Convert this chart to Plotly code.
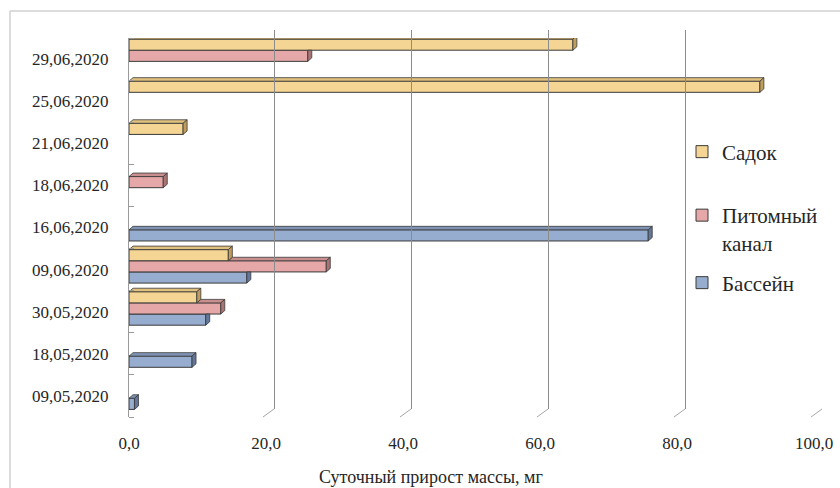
import plotly.graph_objects as go

# ---- data -------------------------------------------------------------
dates = ["09,05,2020", "18,05,2020", "30,05,2020", "09,06,2020", "16,06,2020",
         "18,06,2020", "21,06,2020", "25,06,2020", "29,06,2020"]
bassein = [0.8, 9.2, 11.2, 17.2, 75.8, None, None, None, None]
pitomny = [None, None, 13.4, 28.8, None, 5.0, None, None, 26.1]
sadok = [None, None, 9.9, 14.5, None, None, 7.9, 92.1, 64.8]

series_names = ["Бассейн", "Питомный<br>канал", "Садок"]
x_ticks = [0, 20, 40, 60, 80, 100]
x_tick_text = ["0,0", "20,0", "40,0", "60,0", "80,0", "100,0"]
axis_title = "Суточный прирост массы, мг"

# ---- styling ----------------------------------------------------------
W, H = 840, 488
FONT = "'Liberation Serif', 'Times New Roman', 'DejaVu Serif', serif"
TEXT = "#262626"
front_col = ["#97ADCF", "#E5A7A7", "#F4D593"]
top_col = ["#7E93B5", "#C98E8E", "#E0C07E"]
side_col = ["#63779A", "#A97474", "#BF9D5C"]
edge = "#3A3A3A"
grid_col = "#8C8C8C"

# plot area (front plane) in pixels
PX0, PX1 = 129, 814
PY0, PY1 = 38, 417
BACK_SHIFT = 8
px_per_unit = (PX1 - PX0) / 100.0
px_per_cat = (PY1 - PY0) / len(dates)

BAR_W = 0.265
OFFS = [-0.32, -0.055, 0.21]
DX = 4 / px_per_unit          # bar depth, x direction (data units)
DY = 3.5 / px_per_cat         # bar depth, y direction (category units)

def px_x(p):
    return p / W

def px_y(p):
    return 1 - p / H

series = [bassein, pitomny, sadok]
n = len(dates)
fig = go.Figure()

# front faces of the bars
for k, vals in enumerate(series):
    fig.add_trace(go.Bar(
        y=list(range(n)), x=vals, orientation="h",
        name=series_names[k], width=BAR_W, offset=OFFS[k],
        marker=dict(color=front_col[k], line=dict(color=edge, width=1)),
        legend=["legend3", "legend2", "legend"][k],
        hovertemplate="%{x:.1f}<extra></extra>",
    ))

# top and end faces giving the bars depth
for k, vals in enumerate(series):
    upper = series[k + 1] if k + 1 < len(series) else [None] * n
    tx, ty, sx, sy = [], [], [], []
    for i, v in enumerate(vals):
        if v is None:
            continue
        u = upper[i] or 0.0
        yb = i + OFFS[k]
        yt = yb + BAR_W
        if u < v:
            tx += [u, v, v + DX, u + DX, u, None]
            ty += [yt, yt, yt + DY, yt + DY, yt, None]
            sx += [v, v, v + DX, v + DX, v, None]
            sy += [yb, yt, yt + DY, yb + DY, yb, None]
        else:
            sx += [v, v, v + DX, v + DX, v, None]
            sy += [yb, yt, yt, yb + DY, yb, None]
    if tx:
        fig.add_trace(go.Scatter(x=tx, y=ty, mode="lines", fill="toself",
                                 fillcolor=top_col[k], line=dict(color=edge, width=0.8),
                                 showlegend=False, hoverinfo="skip"))
    fig.add_trace(go.Scatter(x=sx, y=sy, mode="lines", fill="toself",
                             fillcolor=side_col[k], line=dict(color=edge, width=0.8),
                             showlegend=False, hoverinfo="skip"))

# back wall carrying the vertical gridlines
fig.add_trace(go.Scatter(x=[None], y=[None], xaxis="x2", yaxis="y2",
                         showlegend=False, hoverinfo="skip"))

# floor lines joining the back gridlines to the front edge
shapes = []
for v in x_ticks:
    shapes.append(dict(type="line", xref="x2", yref="paper",
                       x0=v, y0=px_y(PY1 - BACK_SHIFT),
                       x1=v - 11 / px_per_unit, y1=px_y(PY1),
                       line=dict(color="#A6A6A6", width=1)))
# chart frame (top and left edges)
shapes.append(dict(type="line", xref="paper", yref="paper",
                   x0=px_x(10), y0=px_y(11), x1=1, y1=px_y(11),
                   line=dict(color="#D0D0D0", width=1.5)))
shapes.append(dict(type="line", xref="paper", yref="paper",
                   x0=px_x(10), y0=px_y(11), x1=px_x(10), y1=0,
                   line=dict(color="#D0D0D0", width=1.5)))

legend_common = dict(xanchor="left", x=px_x(682), yanchor="middle",
                     bgcolor="rgba(0,0,0,0)",
                     font=dict(family=FONT, size=21, color=TEXT))

fig.update_layout(
    width=W, height=H,
    margin=dict(l=0, r=0, t=0, b=0, autoexpand=False),
    paper_bgcolor="white", plot_bgcolor="rgba(0,0,0,0)",
    barmode="overlay",
    font=dict(family=FONT, size=17, color=TEXT),
    showlegend=True,
    xaxis=dict(domain=[px_x(PX0), px_x(PX1)], range=[0, 100],
               tickvals=x_ticks, ticktext=x_tick_text, ticks="",
               showgrid=False, zeroline=False, showline=False,
               ticklabelstandoff=14, fixedrange=True, automargin=False),
    yaxis=dict(domain=[px_y(PY1), px_y(PY0)], range=[-0.5, n - 0.5],
               tickvals=list(range(n)), ticktext=dates, ticks="",
               showgrid=False, zeroline=False,
               showline=True, linecolor="#9A9A9A", linewidth=1,
               minor=dict(ticks="inside", tick0=-0.5, dtick=1, ticklen=5,
                          tickcolor="#9A9A9A", showgrid=False),
               ticklabelstandoff=16, fixedrange=True, automargin=False),
    xaxis2=dict(domain=[px_x(PX0 + BACK_SHIFT), px_x(PX1 + BACK_SHIFT)],
                range=[0, 100], anchor="y2", tickvals=x_ticks,
                showgrid=True, gridcolor=grid_col, gridwidth=1,
                showticklabels=False, ticks="", zeroline=False, showline=False,
                automargin=False),
    yaxis2=dict(domain=[px_y(PY1 - BACK_SHIFT), px_y(PY0 - BACK_SHIFT)],
                range=[0, 1], anchor="x2", showgrid=False,
                showticklabels=False, ticks="", zeroline=False, showline=False,
                automargin=False),
    legend=dict(y=px_y(152), **legend_common),
    legend2=dict(y=px_y(229), valign="top", **legend_common),
    legend3=dict(y=px_y(283), **legend_common),
    shapes=shapes,
    annotations=[dict(text=axis_title, xref="paper", yref="paper",
                      x=px_x(431), y=px_y(477), showarrow=False,
                      xanchor="center", yanchor="middle",
                      font=dict(family=FONT, size=18, color=TEXT))],
)

fig.write_html("out.html")
